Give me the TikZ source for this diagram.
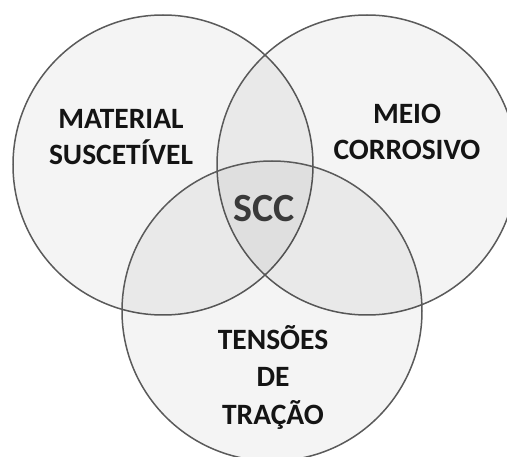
\documentclass[tikz,border=0pt]{standalone}
\usepackage{fontspec}
\setmainfont{Carlito}
\usepackage{xcolor}
\usepackage{tikz}

\definecolor{ring}{HTML}{5A5A5A}
\definecolor{ink}{HTML}{141414}
\definecolor{core}{HTML}{3A3A3A}

\begin{document}
\begin{tikzpicture}[x=1pt,y=-1pt,
  venn/.style={shape=circle,draw=ring,line width=1.5pt,fill=black,fill opacity=0.045,minimum size=300pt,inner sep=0pt},
  lbl/.style={align=center,text=ink,font=\fontsize{29.5}{36}\selectfont\bfseries}]
\useasboundingbox (0,0) rectangle (507,457);
\clip (0,0) rectangle (507,457);
\node[venn] (mat) at (163,165) {};
\node[venn] (meio) at (367,165) {};
\node[venn] (tens) at (272,311) {};
\node[lbl] (matl) at (121,137) {MATERIAL\\SUSCETÍVEL};
\node[lbl] (meiol) at (407,132) {MEIO\\CORROSIVO};
\node[lbl,font=\fontsize{29.5}{37.5}\selectfont\bfseries] (tensl) at (273,377) {TENSÕES\\DE\\TRAÇÃO};
\node[anchor=base,text=core,font=\fontsize{40}{44}\selectfont\bfseries] (scc) at (264,221.7) {SCC};
\end{tikzpicture}
\end{document}
